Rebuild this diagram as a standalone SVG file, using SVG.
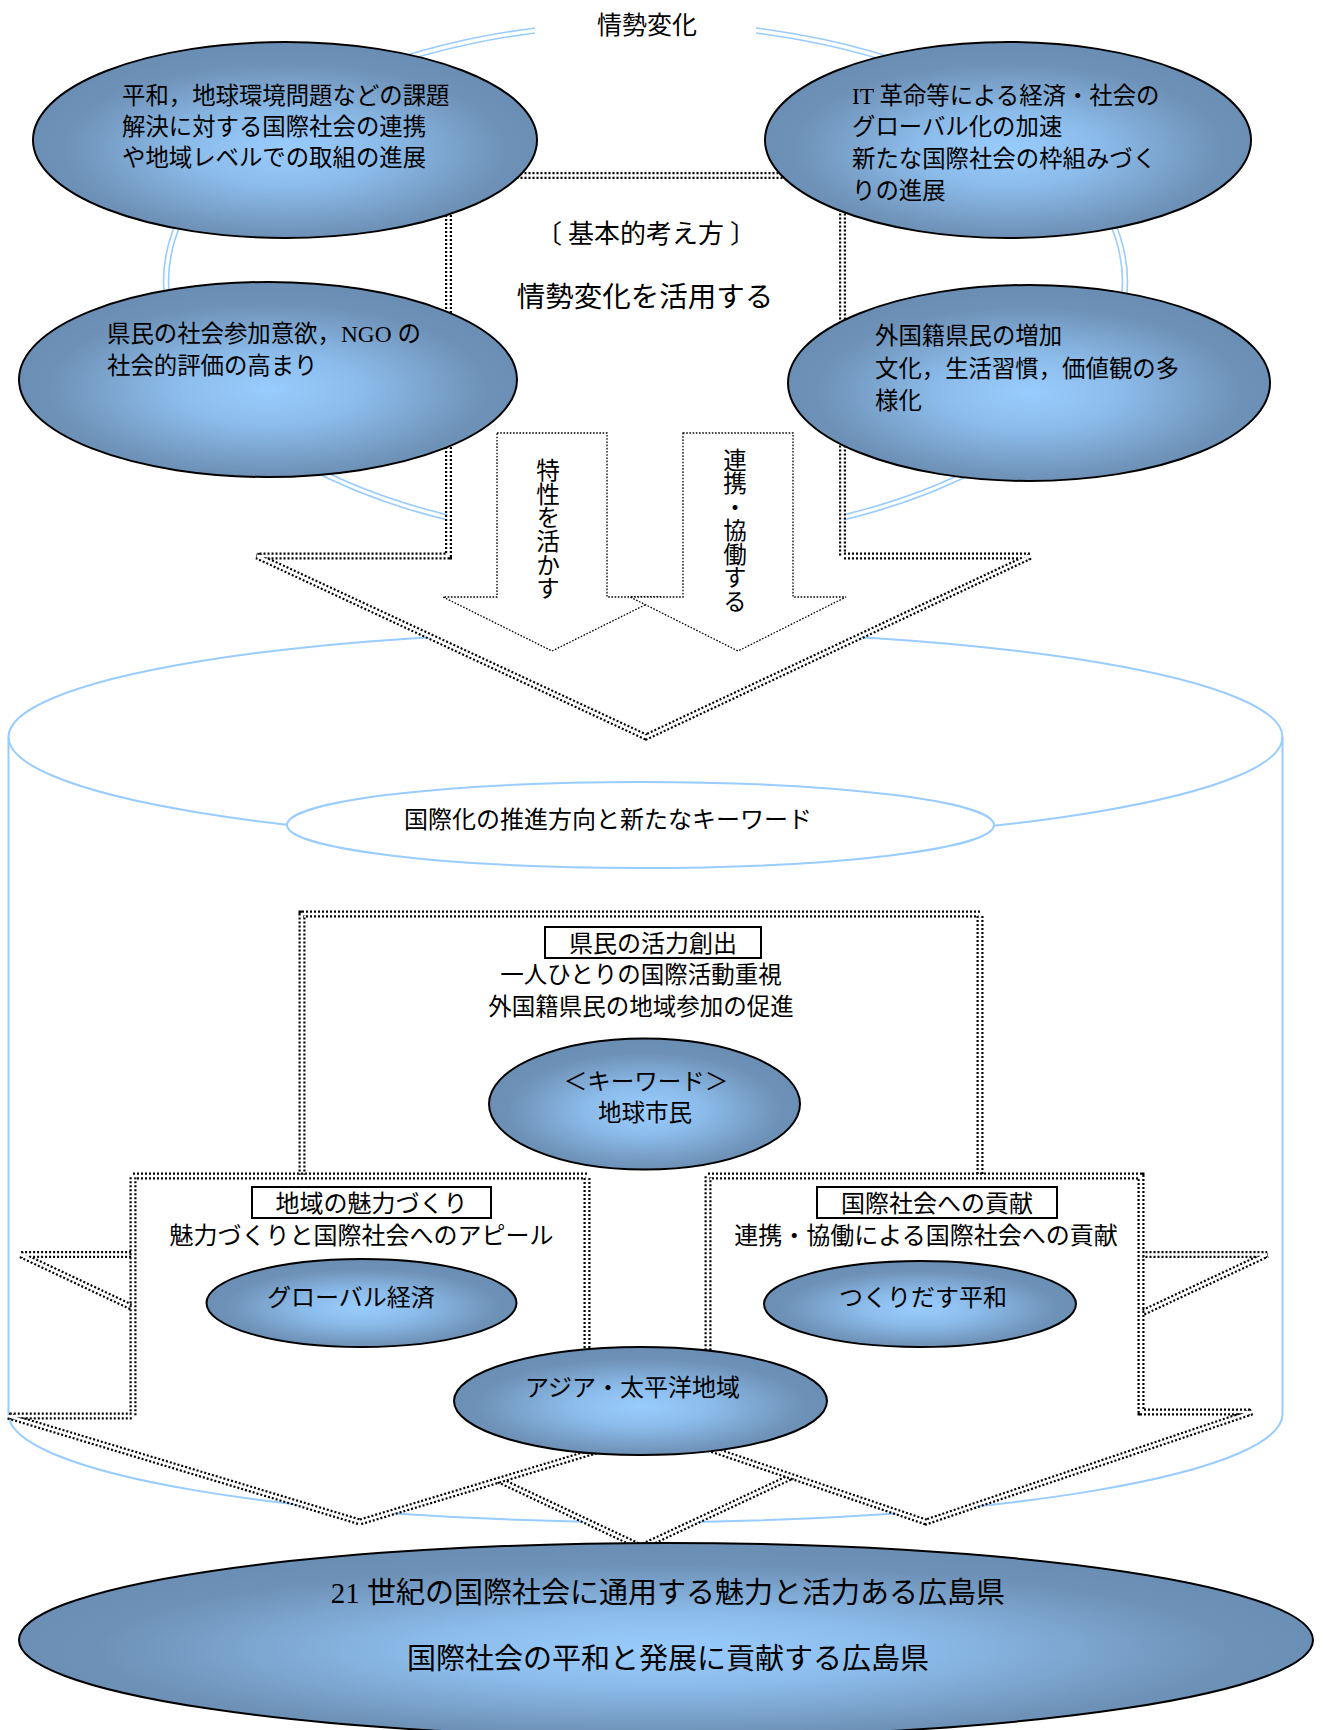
<svg xmlns="http://www.w3.org/2000/svg" xmlns:xlink="http://www.w3.org/1999/xlink" width="1323" height="1730" viewBox="0 0 1323 1730">
<style>
.t{font-family:'Noto Sans CJK JP','Noto Sans CJK SC',sans-serif;fill:#000;dominant-baseline:central}
.ts{font-family:'Liberation Serif','Noto Sans CJK JP',serif;fill:#000;dominant-baseline:central}
.c{text-anchor:middle}
.blue{fill:none;stroke:#99CCFF;stroke-width:2}
.ring{fill:none;stroke:#99CCFF;stroke-width:1.6}
.node{fill:url(#g);stroke:#000;stroke-width:2}
.dd{fill:#fff;stroke:#000;stroke-width:7;stroke-dasharray:2 2}
.ddw{fill:none;stroke:#fff;stroke-width:2.6}
.thin{fill:#fff;stroke:#000;stroke-width:1.3;stroke-dasharray:1.6 1.6}
.lbl{fill:#fff;stroke:#000;stroke-width:2}
</style>
<defs>
<radialGradient id="g" cx="0.5" cy="0.55" r="0.55">
<stop offset="0" stop-color="#99CCFF"/>
<stop offset="0.35" stop-color="#8BBBE9"/>
<stop offset="0.8" stop-color="#6E91B7"/>
<stop offset="1" stop-color="#6A8DB3"/>
</radialGradient>
<path id="pTop" d="M448.5,175.5 H842.5 V556 H1031 L646,737 L257,556 H448.5 Z"/>
<path id="pCenter" d="M302,914 H980 V1254.5 H1267 L641,1547 L20,1254.5 H302 Z"/>
<path id="pLeft" d="M133,1176 H587 V1416 H712 L360,1522 L8,1416 H133 Z"/>
<path id="pRight" d="M708,1176 H1141 V1412 H1252 L926,1522 L601,1412 H708 Z"/>
</defs>
<rect width="1323" height="1730" fill="#fff"/>

<g id="cylinder">
<ellipse class="blue" cx="645.5" cy="737" rx="637" ry="106"/>
<path class="blue" d="M8.5,737 V1414 A637,108 0 0 0 1282.5,1414 V737"/>
</g>

<g id="ring">
<ellipse class="ring" cx="645.5" cy="282" rx="482" ry="261"/>
<ellipse class="ring" cx="645.5" cy="282" rx="477" ry="256"/>
</g>

<g id="title">
<rect x="535" y="4" width="221" height="44" fill="#fff"/>
<text class="t c" x="647" y="23" font-size="25">情勢変化</text>
</g>

<g id="connectors">
<use xlink:href="#pTop" class="dd"/>
<use xlink:href="#pTop" class="ddw"/>
<path class="thin" d="M497,433 H607 V597 H661 L552,651 L443,597 H497 Z"/>
<path class="thin" d="M683,433 H793 V597 H846 L738,651 L630,597 H683 Z"/>
<text class="t" x="548" y="458" font-size="23.7" style="writing-mode:vertical-rl">特性を活かす</text>
<text class="t" x="735" y="448" font-size="23.5" style="writing-mode:vertical-rl">連携・協働する</text>
<use xlink:href="#pCenter" class="dd"/>
<use xlink:href="#pCenter" class="ddw"/>
<use xlink:href="#pLeft" class="dd"/>
<use xlink:href="#pLeft" class="ddw"/>
<use xlink:href="#pRight" class="dd"/>
<use xlink:href="#pRight" class="ddw"/>
</g>

<g id="basic-idea">
<text class="t c" x="646" y="231" font-size="26">〔<tspan dx="6">基本的考え方</tspan><tspan dx="6">〕</tspan></text>
<text class="t c" x="645" y="294" font-size="28.5">情勢変化を活用する</text>
</g>

<g id="direction">
<ellipse cx="640.5" cy="825" rx="353.5" ry="43" fill="#fff" stroke="#99CCFF" stroke-width="2"/>
<text class="t c" x="608" y="817" font-size="24">国際化の推進方向と新たなキーワード</text>
</g>

<g id="vitality">
<rect class="lbl" x="545" y="927" width="216" height="31"/>
<text class="t c" x="653" y="941" font-size="24">県民の活力創出</text>
<text class="t c" font-size="23.5"><tspan x="641" y="973">一人ひとりの国際活動重視</tspan><tspan x="641" y="1004.5">外国籍県民の地域参加の促進</tspan></text>
</g>

<g id="keyword">
<ellipse class="node" cx="644.5" cy="1104" rx="155.5" ry="65.5"/>
<text class="t c" font-size="23.5"><tspan x="646" y="1080">＜キーワード＞</tspan><tspan x="645" y="1111">地球市民</tspan></text>
</g>

<g id="attraction">
<rect class="lbl" x="252" y="1187" width="239" height="31"/>
<text class="t c" x="371.5" y="1201" font-size="24">地域の魅力づくり</text>
<text class="t c" x="361.5" y="1233" font-size="24">魅力づくりと国際社会へのアピール</text>
</g>

<g id="global-economy">
<ellipse class="node" cx="361.5" cy="1303" rx="155" ry="44"/>
<text class="t c" x="351" y="1295" font-size="24">グローバル経済</text>
</g>

<g id="contribution">
<rect class="lbl" x="817" y="1187" width="240" height="31"/>
<text class="t c" x="937" y="1201" font-size="24">国際社会への貢献</text>
<text class="t c" x="926" y="1233" font-size="24">連携・協働による国際社会への貢献</text>
</g>

<g id="peace">
<ellipse class="node" cx="920" cy="1304" rx="156" ry="43"/>
<text class="t c" x="923" y="1295" font-size="24">つくりだす平和</text>
</g>

<g id="asia-pacific">
<ellipse class="node" cx="640.5" cy="1401" rx="186.5" ry="54"/>
<text class="t c" x="632.5" y="1385" font-size="24">アジア・太平洋地域</text>
</g>

<g id="change-tl">
<ellipse class="node" cx="285" cy="140" rx="252" ry="98"/>
<text class="ts" font-size="23.4"><tspan x="122" y="96">平和，地球環境問題などの課題</tspan><tspan x="122" y="127">解決に対する国際社会の連携</tspan><tspan x="122" y="158">や地域レベルでの取組の進展</tspan></text>
</g>

<g id="change-tr">
<ellipse class="node" cx="1008" cy="140" rx="243" ry="98"/>
<text class="ts" font-size="23.4"><tspan x="852" y="96">IT 革命等による経済・社会の</tspan><tspan x="852" y="127">グローバル化の加速</tspan><tspan x="852" y="159">新たな国際社会の枠組みづく</tspan><tspan x="852" y="191">りの進展</tspan></text>
</g>

<g id="change-ml">
<ellipse class="node" cx="268" cy="379.5" rx="249" ry="97.5"/>
<text class="ts" font-size="23.4"><tspan x="107" y="334">県民の社会参加意欲，NGO の</tspan><tspan x="107" y="366">社会的評価の高まり</tspan></text>
</g>

<g id="change-mr">
<ellipse class="node" cx="1029" cy="383" rx="241" ry="98"/>
<text class="ts" font-size="23.4"><tspan x="875" y="336">外国籍県民の増加</tspan><tspan x="875" y="369">文化，生活習慣，価値観の多</tspan><tspan x="875" y="401">様化</tspan></text>
</g>

<g id="goal">
<ellipse class="node" cx="666" cy="1640" rx="647" ry="97"/>
<text class="ts c" x="668" y="1593" font-size="29">21 世紀の国際社会に通用する魅力と活力ある広島県</text>
<text class="t c" x="668" y="1656" font-size="29">国際社会の平和と発展に貢献する広島県</text>
</g>
</svg>
